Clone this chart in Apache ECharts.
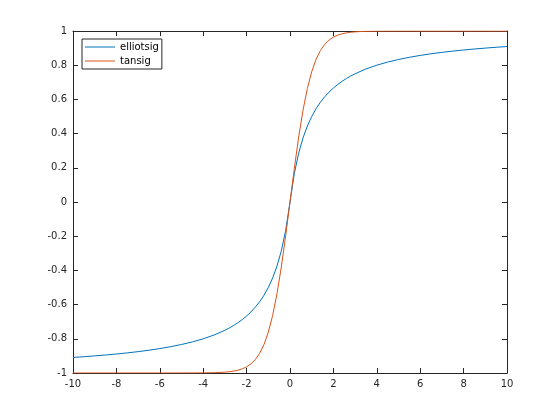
<!DOCTYPE html>
<html><head><meta charset="utf-8">
<script src="https://cdn.jsdelivr.net/npm/echarts@6/dist/echarts.min.js"></script>
<style>html,body{margin:0;padding:0;background:#fff}#c{width:560px;height:420px}</style>
</head><body><div id="c"></div>
<script>
var xs = [-10,-9.5,-9,-8.5,-8,-7.5,-7,-6.5,-6,-5.5,-5,-4.5,-4,-3.5,-3,-2.8,-2.6,-2.4,-2.2,-2,-1.8,-1.6,-1.4,-1.2,-1,-0.8,-0.6,-0.4,-0.2,0,
  0.2,0.4,0.6,0.8,1,1.2,1.4,1.6,1.8,2,2.2,2.4,2.6,2.8,3,3.5,4,4.5,5,5.5,6,6.5,7,7.5,8,8.5,9,9.5,10];
var elliotsig = [-0.9091,-0.9048,-0.9,-0.8947,-0.8889,-0.8824,-0.875,-0.8667,-0.8571,-0.8462,-0.8333,-0.8182,-0.8,-0.7778,-0.75,-0.7368,-0.7222,-0.7059,-0.6875,-0.6667,-0.6429,-0.6154,-0.5833,-0.5455,-0.5,-0.4444,-0.375,-0.2857,-0.1667,0,
  0.1667,0.2857,0.375,0.4444,0.5,0.5455,0.5833,0.6154,0.6429,0.6667,0.6875,0.7059,0.7222,0.7368,0.75,0.7778,0.8,0.8182,0.8333,0.8462,0.8571,0.8667,0.875,0.8824,0.8889,0.8947,0.9,0.9048,0.9091];
var tansig = [-1,-1,-1,-1,-1,-1,-1,-1,-1,-1,-0.9999,-0.9998,-0.9993,-0.9982,-0.9951,-0.9926,-0.989,-0.9837,-0.9757,-0.964,-0.9468,-0.9217,-0.8854,-0.8337,-0.7616,-0.664,-0.537,-0.3799,-0.1974,0,
  0.1974,0.3799,0.537,0.664,0.7616,0.8337,0.8854,0.9217,0.9468,0.964,0.9757,0.9837,0.989,0.9926,0.9951,0.9982,0.9993,0.9998,0.9999,1,1,1,1,1,1,1,1,1,1];
var seriesNames = ['elliotsig','tansig'];
var xTicks = {min:-10, max:10, interval:2};
var yTicks = {min:-1, max:1, interval:0.2};

function pairs(x, y){ return x.map(function(v,i){ return [v, y[i]]; }); }
var axisCol = '#262626';
var font = 'DejaVu Sans';
function xa(pos, showLabel){
  return {type:'value', position:pos, min:xTicks.min, max:xTicks.max, interval:xTicks.interval,
    axisLine:{show:true, onZero:false, lineStyle:{color:axisCol, width:1}},
    axisTick:{show:true, inside:true, length:5, lineStyle:{color:axisCol}},
    axisLabel:{show:showLabel, color:axisCol, fontFamily:font, fontSize:10, margin:6},
    splitLine:{show:false}};
}
function ya(pos, showLabel){
  return {type:'value', position:pos, min:yTicks.min, max:yTicks.max, interval:yTicks.interval,
    axisLine:{show:true, onZero:false, lineStyle:{color:axisCol, width:1}},
    axisTick:{show:true, inside:true, length:5, lineStyle:{color:axisCol}},
    axisLabel:{show:showLabel, color:axisCol, fontFamily:font, fontSize:10, margin:6,
      formatter:function(v){ return String(Math.round(v*10)/10); }},
    splitLine:{show:false}};
}
var chart = echarts.init(document.getElementById('c'), null, {renderer:'canvas'});
chart.setOption({
  animation:false,
  backgroundColor:'#fff',
  grid:{left:73, right:53, top:31, bottom:47, containLabel:false},
  xAxis:[xa('bottom', true), xa('top', false)],
  yAxis:[ya('left', true), ya('right', false)],
  legend:{left:82, top:39, orient:'vertical', data:seriesNames, icon:'rect',
    backgroundColor:'#fff', borderColor:axisCol, borderWidth:1,
    padding:[3,3,3,3], itemGap:4, itemWidth:30, itemHeight:1,
    textStyle:{color:'#000', fontFamily:font, fontSize:10}},
  series:[
    {name:seriesNames[0], type:'line', data:pairs(xs, elliotsig), symbol:'none', showSymbol:false,
      lineStyle:{color:'#0072BD', width:1}, itemStyle:{color:'#0072BD'}, z:3},
    {name:seriesNames[1], type:'line', data:pairs(xs, tansig), symbol:'none', showSymbol:false,
      lineStyle:{color:'#D95319', width:1}, itemStyle:{color:'#D95319'}, z:4}
  ]
});
</script></body></html>
